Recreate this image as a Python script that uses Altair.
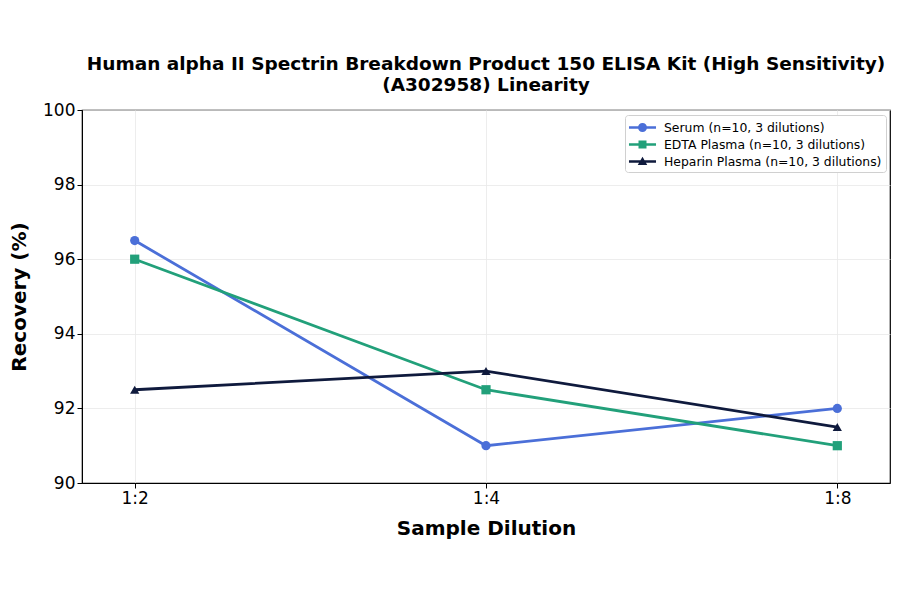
import altair as alt
import pandas as pd

# values
dilutions = ["1:2", "1:4", "1:8"]
sample_types = [
    "Serum (n=10, 3 dilutions)",
    "EDTA Plasma (n=10, 3 dilutions)",
    "Heparin Plasma (n=10, 3 dilutions)",
]
serum = [96.5, 91.0, 92.0]
edta_plasma = [96.0, 92.5, 91.0]
heparin_plasma = [92.5, 93.0, 91.5]

colors = ["#4b6fd8", "#22a07a", "#0f1a3d"]
shapes = ["circle", "square", "triangle-up"]
# legend symbols: a short line with the marker on it
legend_shapes = [
    "M-1.59,-0.15H1.59V0.15H-1.59Z M0.53,0A0.53,0.53 0 1,1 -0.53,0A0.53,0.53 0 1,1 0.53,0Z",
    "M-1.59,-0.15H1.59V0.15H-1.59Z M-0.47,-0.47H0.47V0.47H-0.47Z",
    "M-1.59,-0.15H1.59V0.15H-1.59Z M0,-0.56L0.56,0.42L-0.56,0.42Z",
]

rows = []
for name, values in zip(sample_types, [serum, edta_plasma, heparin_plasma]):
    for d, v in zip(dilutions, values):
        rows.append({"Sample": name, "Dilution": d, "Recovery": v})
data = pd.DataFrame(rows)

font = "DejaVu Sans"

x_enc = alt.X(
    "Dilution:N",
    sort=dilutions,
    scale=alt.Scale(type="point", padding=0.15),
    title="Sample Dilution",
    axis=alt.Axis(
        labelAngle=0,
        labelFontSize=17,
        labelColor="black",
        titleFontSize=20,
        titleFontWeight="bold",
        titleColor="black",
        titlePadding=12,
        tickColor="black",
        tickSize=5,
        domainColor="black",
        grid=True,
        gridColor="#e8e8e8",
        gridWidth=0.8,
    ),
)
y_enc = alt.Y(
    "Recovery:Q",
    scale=alt.Scale(domain=[90, 100], nice=False, zero=False),
    title="Recovery (%)",
    axis=alt.Axis(
        values=[90, 92, 94, 96, 98, 100],
        labelFontSize=17,
        labelColor="black",
        titleFontSize=20,
        titleFontWeight="bold",
        titleColor="black",
        titlePadding=13,
        tickColor="black",
        tickSize=5,
        domainColor="black",
        gridColor="#e8e8e8",
        gridWidth=0.8,
    ),
)
color_scale = alt.Scale(domain=sample_types, range=colors)

legend_style = dict(
    title=None,
    orient="none",
    legendX=543,
    legendY=5,
    labelFont=font,
    labelFontSize=12.4,
    labelColor="black",
    labelLimit=400,
    symbolSize=289,
    symbolStrokeWidth=0,
    symbolOffset=5,
    labelOffset=13,
    rowPadding=2,
    padding=4,
    strokeColor="#d0d0d0",
    fillColor="white",
    cornerRadius=3,
)

base = alt.Chart(data)

lines = base.mark_line(strokeWidth=2.8).encode(
    x=x_enc,
    y=y_enc,
    color=alt.Color("Sample:N", scale=color_scale, legend=None),
    detail="Sample:N",
)

points = base.mark_point(filled=True, size=85, opacity=1).encode(
    x=x_enc,
    y=y_enc,
    color=alt.Color("Sample:N", scale=color_scale, legend=None),
    shape=alt.Shape(
        "Sample:N",
        scale=alt.Scale(domain=sample_types, range=shapes),
        legend=None,
    ),
)

legend_layer = (
    base.transform_filter("false")
    .mark_point(filled=True, opacity=1)
    .encode(
        x=x_enc,
        y=y_enc,
        color=alt.Color("Sample:N", scale=color_scale, legend=alt.Legend(**legend_style)),
        shape=alt.Shape(
            "Sample:N",
            scale=alt.Scale(domain=sample_types, range=legend_shapes),
            legend=alt.Legend(**legend_style),
        ),
    )
)

chart = (
    alt.layer(lines, points, legend_layer)
    .resolve_scale(shape="independent", color="independent")
    .properties(
        width=808,
        height=373,
        autosize=alt.AutoSizeParams(type="none"),
        padding={"left": 74, "top": 102, "right": 2, "bottom": 80},
        title=alt.Title(
            ["Human alpha II Spectrin Breakdown Product 150 ELISA Kit (High Sensitivity)",
             "(A302958) Linearity"],
            font=font,
            fontSize=18.5,
            fontWeight="bold",
            color="black",
            anchor="middle",
            offset=7,
            lineHeight=21,
        ),
    )
    .configure(font=font)
    .configure_view(stroke="black", strokeWidth=1.2)
)

chart.save("out.html", embed_options={"renderer": "svg", "actions": False})
